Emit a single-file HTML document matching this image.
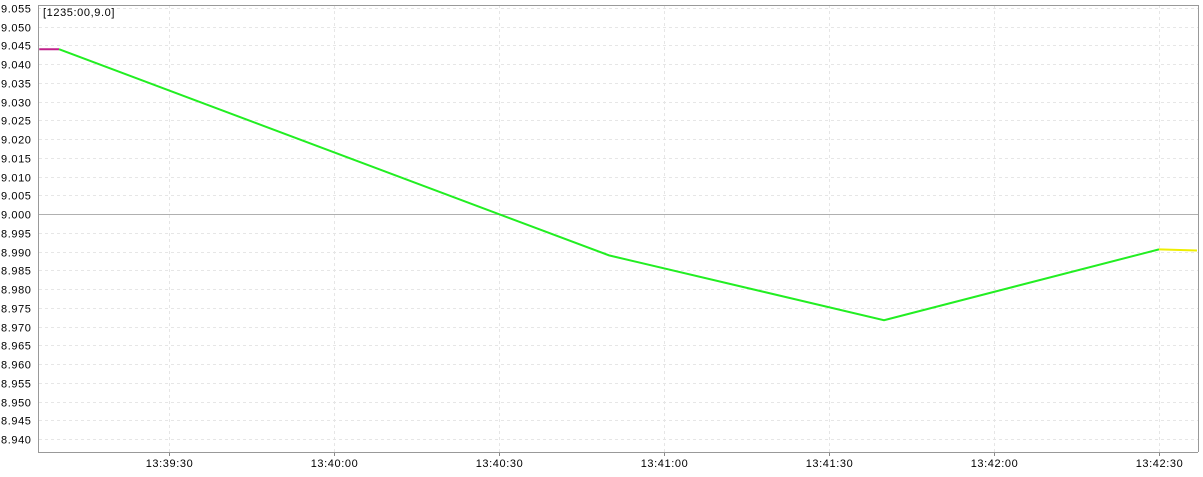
<!DOCTYPE html>
<html><head><meta charset="utf-8"><style>
body{margin:0;background:#fff;}
svg text{font-family:"Liberation Sans",sans-serif;font-size:11px;fill:#000;letter-spacing:0.6px;}
</style></head><body>
<svg id="chart" width="1203" height="472" xmlns="http://www.w3.org/2000/svg"></svg>
<script>
const yTicks=[9.055,9.050,9.045,9.040,9.035,9.030,9.025,9.020,9.015,9.010,9.005,9.000,8.995,8.990,8.985,8.980,8.975,8.970,8.965,8.960,8.955,8.950,8.945,8.940];
const xTickSecs=[39*60+30,40*60,40*60+30,41*60,41*60+30,42*60,42*60+30];
const xTickLabels=["13:39:30","13:40:00","13:40:30","13:41:00","13:41:30","13:42:00","13:42:30"];
const startSegTimes=[39*60+6.4,39*60+10];
const startSegValues=[9.044,9.044];
const mainTimes=[39*60+10,40*60+50,41*60+40,42*60+30];
const mainValues=[9.044,8.989,8.9717,8.9906];
const endSegTimes=[42*60+30,42*60+36.9];
const endSegValues=[8.9906,8.9903];

const L=39,R=1198,T=5,B=452;
const x=s=>169+(s-(39*60+30))*5.5;
const y=v=>8+(9.055-v)/0.005*18.74;
const svg=document.getElementById('chart');
const NS='http://www.w3.org/2000/svg';
function mk(tag,attrs,parent){const e=document.createElementNS(NS,tag);for(const k in attrs)e.setAttribute(k,attrs[k]);(parent||svg).appendChild(e);return e;}
const grid=mk('g',{});


yTicks.forEach(v=>{
  const yy=Math.round(y(v))+0.5;
  if(Math.abs(v-9.0)>1e-9){mk('line',{x1:L,x2:R,y1:yy,y2:yy,stroke:'#e6e6e6','stroke-dasharray':'3,3'},grid);}
  const t=mk('text',{x:1,y:yy+4});t.textContent=v.toFixed(3);
  
  
});
xTickSecs.forEach((s,i)=>{
  const xx=Math.round(x(s))+0.5;
  mk('line',{x1:xx,x2:xx,y1:T,y2:B,stroke:'#e6e6e6','stroke-dasharray':'3,3'},grid);
  mk('line',{x1:xx,x2:xx,y1:B,y2:B+4,stroke:'#888'});
  const t=mk('text',{x:xx,y:467,'text-anchor':'middle'});t.textContent=xTickLabels[i];
  
  
});
const zl=mk('line',{x1:L,x2:R,y1:Math.round(y(9.0))+0.5,y2:Math.round(y(9.0))+0.5,stroke:'#b0b0b0'});


const frame=mk('path',{d:`M${L-0.5},${T} V${B+0.5} H${R} M${L},${T+0.5} H${R+0.5} V${B}`,stroke:'#999',fill:'none'});


function series(ts,vs,color,name){
  const p=mk('polyline',{points:ts.map((t,i)=>x(t)+','+y(vs[i])).join(' '),fill:'none',stroke:color,'stroke-width':2});
  
  
}
series(startSegTimes,startSegValues,'#c0208a','series-start');
series(mainTimes,mainValues,'#22ee22','series-main');
series(endSegTimes,endSegValues,'#eeee00','series-end');
const bx=mk('rect',{x:41,y:6,width:76,height:14,fill:'#fff'});


const it=mk('text',{x:43,y:16});it.textContent='[1235:00,9.0]';


</script>
</body></html>
